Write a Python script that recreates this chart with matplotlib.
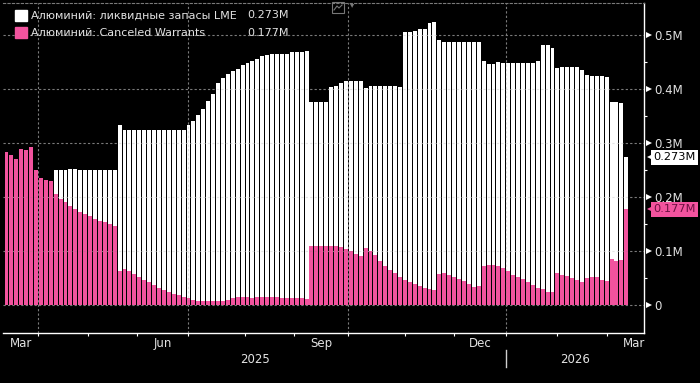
import numpy as np
import pandas as pd
import matplotlib
matplotlib.use("Agg")
import matplotlib.pyplot as plt
from matplotlib.patches import Rectangle
from matplotlib.lines import Line2D

# ---------------- data (million tonnes), one bar = two LME trading days ----------------
nan = np.nan
liquid = [nan, nan, nan, nan, nan, nan, nan, nan, nan, nan,
          0.250, 0.250, 0.250, 0.252, 0.252, 0.250, 0.250, 0.250, 0.250, 0.250,
          0.250, 0.250, 0.250, 0.333, 0.323, 0.323, 0.323, 0.323, 0.323, 0.323,
          0.323, 0.323, 0.323, 0.323, 0.323, 0.323, 0.323, 0.333, 0.340, 0.352,
          0.362, 0.378, 0.390, 0.410, 0.420, 0.427, 0.434, 0.437, 0.444, 0.448,
          0.452, 0.455, 0.461, 0.463, 0.465, 0.465, 0.465, 0.465, 0.469, 0.469,
          0.469, 0.471, 0.375, 0.375, 0.375, 0.375, 0.404, 0.405, 0.410, 0.414,
          0.414, 0.414, 0.415, 0.401, 0.406, 0.406, 0.406, 0.406, 0.406, 0.406,
          0.404, 0.505, 0.506, 0.507, 0.510, 0.510, 0.522, 0.523, 0.490, 0.486,
          0.486, 0.486, 0.486, 0.486, 0.486, 0.486, 0.486, 0.452, 0.446, 0.446,
          0.449, 0.448, 0.448, 0.448, 0.448, 0.448, 0.448, 0.448, 0.452, 0.481,
          0.481, 0.476, 0.438, 0.441, 0.441, 0.441, 0.441, 0.435, 0.425, 0.423,
          0.423, 0.423, 0.422, 0.376, 0.376, 0.374, 0.273]
cancelled = [0.284, 0.277, 0.271, 0.289, 0.286, 0.292, 0.250, 0.235, 0.231, 0.229,
             0.205, 0.197, 0.190, 0.184, 0.178, 0.172, 0.168, 0.164, 0.160, 0.156,
             0.153, 0.149, 0.146, 0.063, 0.067, 0.062, 0.057, 0.052, 0.047, 0.043,
             0.037, 0.032, 0.028, 0.024, 0.021, 0.018, 0.015, 0.012, 0.010, 0.008,
             0.008, 0.008, 0.008, 0.008, 0.007, 0.009, 0.013, 0.015, 0.015, 0.015,
             0.013, 0.015, 0.015, 0.015, 0.015, 0.014, 0.013, 0.013, 0.013, 0.013,
             0.012, 0.011, 0.110, 0.110, 0.110, 0.110, 0.110, 0.109, 0.107, 0.103,
             0.099, 0.095, 0.091, 0.106, 0.100, 0.092, 0.082, 0.073, 0.065, 0.059,
             0.052, 0.047, 0.042, 0.038, 0.035, 0.032, 0.030, 0.028, 0.058, 0.060,
             0.056, 0.052, 0.048, 0.044, 0.038, 0.034, 0.035, 0.072, 0.074, 0.074,
             0.072, 0.068, 0.062, 0.056, 0.052, 0.048, 0.043, 0.037, 0.032, 0.030,
             0.024, 0.024, 0.059, 0.056, 0.054, 0.049, 0.046, 0.043, 0.050, 0.052,
             0.051, 0.046, 0.044, 0.085, 0.082, 0.083, 0.177]

series_names = ["Алюминий: ликвидные запасы LME", "Алюминий: Canceled Warrants"]
last_values = ["0.273M", "0.177M"]
y_ticks = [0, 0.1, 0.2, 0.3, 0.4, 0.5]
y_tick_labels = ["0", "0.1M", "0.2M", "0.3M", "0.4M", "0.5M"]
month_labels = {(2025, 3): "Mar", (2025, 6): "Jun", (2025, 9): "Sep",
                (2025, 12): "Dec", (2026, 3): "Mar"}
year_labels = ["2025", "2026"]

# LME (UK) trading calendar
holidays = ["2025-04-18", "2025-04-21", "2025-05-05", "2025-05-26", "2025-08-25",
            "2025-12-25", "2025-12-26", "2026-01-01", "2026-04-03", "2026-04-06"]
days = pd.bdate_range("2025-03-12", "2026-04-30", freq="C", holidays=holidays)
nbars = len(cancelled)
bar_dates = days[0:2 * nbars:2]

PINK = "#f2539e"
TXT = "#e2e2e2"
W, H = 700, 383

fig = plt.figure(figsize=(7, 3.83), dpi=100, facecolor="black")
ax = fig.add_axes([3 / W, 1 - 333 / H, 641 / W, 330 / H])
ax.set_facecolor("black")
ax.set_xlim(-0.41, 260.2)
ax.set_ylim(-0.0519, 0.559)

pos = np.arange(nbars) * 2 + 1.0
liq = np.array(liquid, dtype=float)
ok = ~np.isnan(liq)
ax.bar(pos[ok], liq[ok], width=1.6, color="white", linewidth=0, zorder=2)
ax.bar(pos, cancelled, width=1.6, color=PINK, linewidth=0, zorder=3)

# month boundaries (in trading-day index)
mstart = [0] + [i for i in range(1, len(days)) if days[i].month != days[i - 1].month]
mkeys = [(days[i].year, days[i].month) for i in mstart]

dash = (0, (2, 2))
for y in y_ticks:
    ax.axhline(y, color="#7a7a7a", lw=0.8, ls=dash, zorder=1)
    ax.axhline(y, color="#7a7a7a", lw=0.8, ls=dash, alpha=0.2, zorder=4)
for i, key in zip(mstart, mkeys):
    if key[1] in (1, 4, 7, 10) and i > 0:
        ax.axvline(i, color="#7a7a7a", lw=0.8, ls=dash, zorder=1)
        ax.axvline(i, color="#7a7a7a", lw=0.8, ls=dash, alpha=0.2, zorder=4)

# spines
ax.spines["left"].set_visible(False)
ax.spines["top"].set_color("#7a7a7a")
ax.spines["top"].set_linestyle(dash)
ax.spines["top"].set_linewidth(0.8)
ax.spines["right"].set_color("white")
ax.spines["bottom"].set_color("white")
ax.spines["right"].set_linewidth(1)
ax.spines["bottom"].set_linewidth(1)

# x ticks at month starts
xt = [i for i in mstart[1:] if i < 260.2]
ax.set_xticks(xt)
ax.set_xticklabels([])
ax.tick_params(axis="x", colors="white", length=2.5, width=0.8, direction="out")

tr_x = ax.get_xaxis_transform()
for k, i in enumerate(mstart):
    key = mkeys[k]
    if key in month_labels and k + 1 < len(mstart):
        c = (i + mstart[k + 1]) / 2
        ax.text(c, -0.032, month_labels[key], transform=tr_x, ha="center", va="center",
                fontsize=8.5, color=TXT)
jan = mstart[mkeys.index((2026, 1))]
ax.text((0 + jan) / 2, -0.080, year_labels[0], transform=tr_x, ha="center", va="center",
        fontsize=8.5, color=TXT)
ax.text((jan + 260.2) / 2, -0.080, year_labels[1], transform=tr_x, ha="center", va="center",
        fontsize=8.5, color=TXT)
ax.plot([jan, jan], [-0.0515, -0.103], transform=tr_x, color="#cfcfcf", lw=1, clip_on=False)

# y axis on right
ax.yaxis.tick_right()
ax.set_yticks(y_ticks)
ax.set_yticklabels(y_tick_labels)
ax.set_yticks([0.05, 0.15, 0.25, 0.35, 0.45], minor=True)
ax.tick_params(axis="y", which="major", length=0, pad=7.5, labelsize=8.5, labelcolor=TXT)
ax.tick_params(axis="y", which="minor", length=2.5, width=0.8, colors="white", direction="out")
ax.plot(np.full(len(y_ticks), 1 + 5 / 641), y_ticks, transform=ax.get_yaxis_transform(),
        marker=">", ms=4.2, color="white", mew=0, ls="none", clip_on=False)

# last value tags (box + small left-pointing notch)
tr_y = ax.get_yaxis_transform()
for val, txt, fc, tc in [(liquid[-1], last_values[0], "white", "black"),
                         (cancelled[-1], last_values[1], PINK, "#6b1040")]:
    ax.plot([1 + 8.5 / 641], [val], transform=tr_y, marker="<", ms=8, color=fc, mew=0,
            ls="none", clip_on=False, zorder=9)
    ax.text(1 + 9 / 641, val, txt, transform=tr_y, ha="left", va="center",
            fontsize=8.2, color=tc, zorder=10, clip_on=False,
            bbox=dict(boxstyle="square,pad=0.2", fc=fc, ec="none"))

# legend
for row, (name, val, col) in enumerate(zip(series_names, last_values, ["white", PINK])):
    yc = 15.5 + row * 17
    fig.patches.append(Rectangle((15 / W, 1 - (yc + 5.5) / H), 12 / W, 11 / H,
                                 transform=fig.transFigure, color=col))
    fig.text(31 / W, 1 - yc / H, name, ha="left", va="center", fontsize=8, color=TXT)
    fig.text(289 / W, 1 - yc / H, val, ha="right", va="center", fontsize=8, color=TXT)

# small chart icon at top
fig.patches.append(Rectangle((332 / W, 1 - 13 / H), 12 / W, 11 / H, transform=fig.transFigure,
                             fill=False, ec="#777777", lw=0.8))
fig.lines.append(Line2D(np.array([334, 337, 339, 342]) / W, 1 - np.array([10, 6, 8, 5]) / H,
                        transform=fig.transFigure, color="#777777", lw=0.8))
fig.text(352 / W, 1 - 5 / H, "▾", ha="center", va="center", fontsize=6, color="#777777")

fig.savefig("out.png", dpi=100, facecolor="black")
